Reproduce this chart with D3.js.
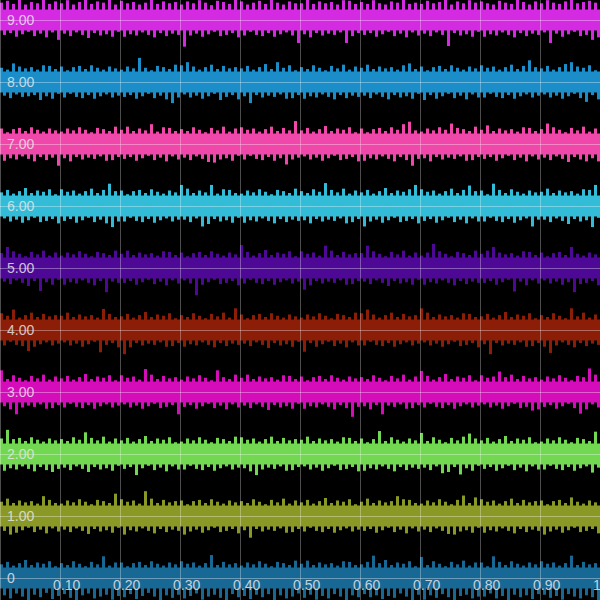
<!DOCTYPE html>
<html><head><meta charset="utf-8">
<script src="https://cdn.jsdelivr.net/npm/d3@7"></script>
<style>html,body{margin:0;padding:0;background:#000;}svg{display:block;}</style>
</head><body>
<svg id="chart" width="600" height="600"></svg>
<script>
// Series baselines (value of each trace's centre) and colours
const seriesBase = [0,1,2,3,4,5,6,7,8,9];
const seriesColors = ["#186896","#8a9826","#72d852","#d40cba","#8c1e08","#4e0896","#32bcd8","#f048aa","#1b8dc8","#d42ae2"];
// Dense core half-width of each trace (value units)
const coreHalf = [0.17,0.17,0.17,0.17,0.17,0.17,0.17,0.17,0.17,0.17];
const xTicks = [0.1,0.2,0.3,0.4,0.5,0.6,0.7,0.8,0.9,1];
const yTicks = [0,1,2,3,4,5,6,7,8,9];
const xTickLabels = ["0.10","0.20","0.30","0.40","0.50","0.60","0.70","0.80","0.90","1"];
const yTickLabels = ["0","1.00","2.00","3.00","4.00","5.00","6.00","7.00","8.00","9.00"];
// Upper / lower excursion of each trace in 100 bins of 0.01 along x (value units)
const hi9=[.28,.31,.26,.33,.25,.29,.27,.34,.26,.30,.27,.32,.25,.29,.33,.26,.30,.28,.34,.25,.31,.27,.29,.25,.28,.33,.26,.30,.27,.29,.25,.30,.27,.32,.28,.24,.31,.29,.26,.33,.30,.25,.28,.31,.26,.34,.28,.25,.30,.27,.27,.33,.26,.30,.27,.29,.25,.32,.31,.26,.29,.26,.32,.27,.25,.30,.28,.33,.26,.28,.26,.31,.27,.29,.34,.25,.30,.27,.32,.28,.30,.27,.25,.31,.28,.26,.33,.29,.25,.30,.27,.32,.28,.26,.30,.34,.27,.29,.31,.28];
const lo9=[-.24,-.21,-.27,-.23,-.19,-.26,-.22,-.28,-.20,-.32,-.22,-.26,-.20,-.24,-.29,-.21,-.25,-.23,-.27,-.19,-.27,-.23,-.25,-.20,-.24,-.28,-.21,-.26,-.22,-.24,-.43,-.25,-.22,-.27,-.23,-.19,-.26,-.24,-.21,-.28,-.25,-.19,-.24,-.26,-.21,-.27,-.23,-.20,-.25,-.37,-.23,-.28,-.21,-.25,-.22,-.24,-.20,-.37,-.26,-.21,-.24,-.21,-.27,-.23,-.19,-.26,-.22,-.28,-.20,-.25,-.22,-.26,-.20,-.24,-.42,-.21,-.25,-.23,-.27,-.19,-.27,-.23,-.25,-.20,-.24,-.28,-.21,-.26,-.22,-.24,-.20,-.37,-.22,-.27,-.23,-.19,-.26,-.24,-.32,-.28];
const hi8=[.23,.20,.30,.25,.22,.24,.20,.27,.26,.21,.25,.19,.24,.26,.21,.27,.23,.20,.25,.22,.20,.25,.22,.39,.23,.19,.26,.24,.21,.28,.27,.32,.25,.20,.24,.28,.21,.26,.22,.24,.22,.26,.20,.24,.29,.21,.32,.23,.27,.19,.24,.21,.27,.23,.19,.26,.22,.28,.20,.25,.23,.28,.21,.25,.22,.24,.20,.27,.30,.21,.25,.19,.24,.26,.21,.27,.23,.20,.25,.22,.27,.23,.25,.20,.24,.28,.21,.26,.35,.24,.22,.26,.20,.24,.29,.32,.25,.23,.27,.19];
const lo8=[-.22,-.26,-.20,-.24,-.23,-.21,-.29,-.23,-.27,-.19,-.25,-.19,-.24,-.26,-.21,-.27,-.23,-.20,-.25,-.22,-.24,-.21,-.27,-.23,-.19,-.26,-.22,-.28,-.34,-.25,-.20,-.25,-.22,-.27,-.23,-.19,-.29,-.24,-.21,-.28,-.23,-.34,-.21,-.25,-.22,-.24,-.20,-.27,-.26,-.21,-.27,-.23,-.25,-.20,-.24,-.28,-.21,-.26,-.22,-.24,-.22,-.26,-.20,-.24,-.28,-.21,-.25,-.23,-.27,-.19,-.29,-.21,-.27,-.23,-.19,-.26,-.22,-.28,-.20,-.25,-.25,-.19,-.24,-.26,-.21,-.27,-.23,-.20,-.25,-.22,-.20,-.25,-.22,-.27,-.23,-.19,-.26,-.32,-.21,-.28];
const hi7=[.25,.19,.24,.26,.21,.27,.23,.20,.25,.22,.20,.25,.22,.27,.23,.19,.26,.24,.21,.28,.23,.28,.21,.25,.22,.32,.20,.27,.26,.21,.24,.21,.27,.23,.19,.26,.22,.28,.20,.25,.27,.23,.25,.20,.24,.28,.21,.26,.22,.37,.22,.26,.20,.24,.29,.21,.25,.23,.27,.19,.25,.19,.24,.26,.21,.27,.23,.32,.36,.22,.20,.25,.22,.27,.23,.33,.26,.24,.21,.28,.23,.30,.21,.25,.22,.24,.20,.27,.26,.21,.24,.33,.27,.23,.19,.26,.22,.28,.20,.25];
const lo7=[-.27,-.23,-.25,-.20,-.24,-.28,-.21,-.26,-.22,-.35,-.23,-.28,-.21,-.25,-.22,-.24,-.20,-.27,-.26,-.21,-.24,-.21,-.27,-.23,-.19,-.26,-.22,-.28,-.20,-.25,-.22,-.26,-.20,-.24,-.29,-.30,-.25,-.23,-.27,-.19,-.25,-.19,-.24,-.26,-.21,-.27,-.23,-.33,-.25,-.22,-.20,-.25,-.22,-.27,-.23,-.19,-.26,-.24,-.21,-.28,-.27,-.23,-.25,-.20,-.24,-.28,-.21,-.26,-.35,-.24,-.23,-.28,-.21,-.25,-.22,-.24,-.20,-.27,-.26,-.21,-.24,-.21,-.27,-.23,-.19,-.26,-.22,-.28,-.20,-.25,-.22,-.26,-.20,-.24,-.29,-.21,-.25,-.28,-.23,-.28];
const hi6=[.22,.26,.20,.24,.29,.21,.25,.23,.27,.19,.27,.23,.25,.20,.24,.28,.21,.26,.36,.24,.25,.19,.24,.26,.21,.27,.23,.20,.25,.22,.34,.28,.21,.25,.22,.34,.20,.27,.26,.21,.20,.25,.22,.27,.23,.19,.26,.24,.21,.28,.24,.21,.27,.23,.37,.26,.22,.28,.20,.25,.22,.26,.20,.24,.29,.21,.25,.23,.27,.34,.27,.23,.25,.20,.24,.28,.21,.26,.33,.24,.25,.19,.36,.26,.21,.27,.23,.20,.25,.22,.23,.28,.21,.25,.22,.24,.20,.27,.26,.34];
const lo6=[-.20,-.25,-.22,-.27,-.23,-.19,-.26,-.24,-.21,-.28,-.24,-.21,-.27,-.23,-.19,-.26,-.22,-.28,-.34,-.25,-.25,-.19,-.24,-.26,-.21,-.27,-.23,-.20,-.25,-.22,-.22,-.26,-.20,-.33,-.29,-.21,-.25,-.23,-.27,-.19,-.27,-.23,-.25,-.20,-.24,-.28,-.21,-.26,-.22,-.24,-.23,-.28,-.21,-.25,-.22,-.24,-.20,-.28,-.26,-.21,-.33,-.25,-.22,-.27,-.23,-.19,-.26,-.24,-.21,-.28,-.24,-.21,-.27,-.23,-.19,-.26,-.22,-.28,-.20,-.25,-.25,-.19,-.24,-.26,-.21,-.27,-.23,-.20,-.33,-.22,-.22,-.26,-.20,-.24,-.29,-.21,-.25,-.23,-.34,-.19];
const hi5=[.24,.34,.27,.23,.19,.26,.22,.28,.20,.25,.20,.25,.22,.27,.23,.19,.26,.24,.21,.28,.23,.28,.21,.25,.22,.24,.20,.27,.26,.21,.25,.19,.24,.26,.21,.27,.23,.20,.25,.22,.37,.26,.20,.24,.29,.21,.25,.23,.27,.19,.27,.23,.25,.20,.36,.28,.21,.26,.22,.24,.24,.36,.27,.23,.19,.26,.22,.28,.20,.25,.20,.25,.39,.27,.23,.19,.26,.24,.21,.28,.23,.28,.34,.25,.22,.24,.20,.27,.26,.21,.25,.19,.24,.26,.21,.34,.23,.20,.25,.22];
const lo5=[-.22,-.26,-.20,-.24,-.29,-.21,-.37,-.23,-.27,-.19,-.27,-.23,-.25,-.20,-.24,-.28,-.21,-.39,-.22,-.24,-.24,-.21,-.27,-.23,-.19,-.26,-.22,-.28,-.20,-.25,-.20,-.25,-.44,-.27,-.23,-.19,-.26,-.24,-.21,-.28,-.25,-.19,-.24,-.26,-.21,-.27,-.23,-.20,-.25,-.22,-.35,-.28,-.21,-.25,-.22,-.24,-.20,-.27,-.26,-.21,-.22,-.26,-.20,-.24,-.29,-.21,-.25,-.23,-.27,-.19,-.27,-.23,-.25,-.20,-.24,-.28,-.21,-.26,-.22,-.24,-.24,-.21,-.27,-.23,-.19,-.38,-.22,-.28,-.20,-.25,-.20,-.25,-.22,-.27,-.23,-.39,-.26,-.24,-.21,-.28];
const hi4=[.27,.23,.33,.20,.24,.28,.21,.26,.22,.24,.23,.28,.21,.25,.22,.24,.20,.34,.26,.21,.22,.26,.20,.24,.29,.21,.25,.23,.27,.19,.24,.21,.27,.23,.19,.26,.22,.28,.20,.35,.25,.19,.24,.26,.21,.27,.23,.20,.25,.22,.20,.25,.22,.27,.23,.19,.26,.24,.21,.28,.27,.33,.25,.20,.24,.28,.21,.26,.22,.24,.35,.28,.21,.25,.22,.24,.20,.27,.26,.21,.22,.26,.20,.24,.29,.21,.25,.23,.27,.19,.24,.21,.27,.23,.19,.35,.22,.28,.20,.25];
const lo4=[-.25,-.19,-.24,-.26,-.34,-.27,-.23,-.20,-.25,-.22,-.20,-.25,-.22,-.27,-.23,-.19,-.36,-.24,-.21,-.28,-.39,-.28,-.21,-.25,-.22,-.24,-.20,-.27,-.26,-.21,-.27,-.23,-.25,-.20,-.24,-.28,-.21,-.26,-.22,-.24,-.22,-.26,-.20,-.24,-.29,-.21,-.25,-.23,-.27,-.19,-.35,-.21,-.27,-.23,-.19,-.26,-.22,-.28,-.20,-.25,-.25,-.19,-.24,-.26,-.21,-.27,-.23,-.20,-.25,-.22,-.20,-.25,-.22,-.27,-.23,-.19,-.26,-.24,-.21,-.28,-.23,-.39,-.21,-.25,-.22,-.24,-.20,-.27,-.26,-.21,-.27,-.37,-.25,-.20,-.24,-.28,-.21,-.26,-.22,-.24];
const hi3=[.35,.21,.27,.23,.19,.26,.22,.28,.20,.25,.22,.26,.20,.24,.29,.21,.25,.23,.27,.19,.27,.23,.25,.20,.37,.28,.21,.26,.22,.24,.20,.25,.22,.27,.23,.19,.35,.24,.21,.28,.23,.28,.21,.25,.22,.24,.20,.27,.26,.21,.25,.19,.24,.26,.21,.27,.23,.20,.25,.22,.24,.21,.27,.23,.19,.26,.22,.28,.20,.25,.34,.26,.20,.24,.29,.21,.25,.23,.27,.19,.27,.23,.25,.33,.24,.28,.21,.26,.22,.24,.20,.25,.22,.27,.23,.19,.26,.24,.38,.28];
const lo3=[-.23,-.28,-.36,-.25,-.22,-.24,-.20,-.27,-.26,-.21,-.25,-.19,-.24,-.26,-.21,-.27,-.23,-.20,-.25,-.22,-.20,-.25,-.22,-.27,-.23,-.19,-.26,-.24,-.21,-.36,-.24,-.21,-.27,-.23,-.19,-.26,-.22,-.28,-.20,-.25,-.22,-.26,-.20,-.24,-.29,-.21,-.25,-.23,-.27,-.19,-.27,-.23,-.25,-.20,-.24,-.28,-.21,-.26,-.40,-.24,-.23,-.28,-.21,-.36,-.22,-.24,-.20,-.27,-.26,-.21,-.25,-.19,-.24,-.26,-.21,-.27,-.23,-.20,-.25,-.22,-.20,-.25,-.22,-.27,-.23,-.19,-.26,-.24,-.30,-.28,-.24,-.21,-.27,-.23,-.19,-.26,-.35,-.28,-.20,-.25];
const hi2=[.25,.39,.24,.26,.21,.27,.23,.20,.25,.22,.24,.21,.27,.23,.35,.26,.22,.28,.20,.25,.22,.26,.20,.24,.29,.21,.25,.23,.27,.19,.20,.25,.22,.27,.23,.19,.26,.24,.21,.28,.27,.23,.25,.20,.24,.28,.21,.26,.22,.24,.23,.28,.21,.25,.22,.24,.20,.27,.26,.21,.25,.19,.24,.37,.21,.27,.23,.20,.25,.22,.34,.21,.27,.23,.19,.26,.22,.28,.33,.25,.22,.26,.20,.24,.29,.21,.25,.23,.27,.19,.20,.25,.22,.27,.23,.19,.26,.24,.21,.36];
const lo2=[-.27,-.23,-.25,-.20,-.24,-.28,-.21,-.26,-.29,-.24,-.22,-.26,-.20,-.24,-.29,-.21,-.25,-.23,-.27,-.19,-.24,-.21,-.34,-.23,-.19,-.26,-.22,-.28,-.20,-.25,-.25,-.19,-.24,-.26,-.21,-.27,-.23,-.20,-.25,-.22,-.23,-.28,-.34,-.25,-.22,-.24,-.20,-.27,-.26,-.21,-.20,-.25,-.22,-.27,-.23,-.19,-.26,-.24,-.21,-.28,-.27,-.23,-.25,-.20,-.24,-.28,-.21,-.26,-.22,-.24,-.22,-.26,-.20,-.31,-.29,-.21,-.33,-.23,-.27,-.19,-.24,-.21,-.27,-.23,-.19,-.26,-.22,-.28,-.20,-.25,-.25,-.19,-.24,-.26,-.21,-.27,-.23,-.20,-.30,-.22];
const hi1=[.23,.28,.21,.25,.22,.24,.20,.32,.26,.21,.20,.25,.22,.27,.23,.19,.26,.24,.21,.36,.27,.23,.25,.20,.40,.28,.21,.26,.22,.24,.25,.19,.24,.26,.21,.27,.23,.20,.25,.22,.24,.21,.27,.23,.19,.26,.22,.28,.20,.25,.22,.26,.20,.24,.29,.21,.25,.23,.27,.19,.23,.28,.21,.25,.22,.24,.32,.27,.26,.21,.20,.25,.22,.27,.23,.19,.26,.33,.21,.30,.27,.23,.25,.20,.24,.28,.21,.26,.22,.24,.25,.19,.24,.26,.21,.30,.23,.20,.25,.22];
const lo1=[-.24,-.30,-.27,-.23,-.19,-.26,-.22,-.28,-.20,-.25,-.22,-.26,-.20,-.24,-.29,-.21,-.25,-.23,-.27,-.19,-.30,-.23,-.25,-.20,-.24,-.28,-.21,-.26,-.22,-.24,-.30,-.25,-.22,-.27,-.23,-.19,-.26,-.24,-.21,-.28,-.23,-.35,-.21,-.25,-.22,-.24,-.20,-.27,-.26,-.21,-.25,-.19,-.24,-.26,-.21,-.27,-.23,-.20,-.25,-.22,-.24,-.21,-.27,-.23,-.19,-.26,-.22,-.28,-.20,-.25,-.22,-.26,-.20,-.24,-.29,-.30,-.25,-.23,-.27,-.19,-.27,-.23,-.25,-.20,-.24,-.28,-.21,-.26,-.22,-.24,-.30,-.25,-.22,-.27,-.23,-.19,-.26,-.24,-.21,-.28];
const hi0=[.22,.26,.20,.24,.29,.21,.25,.23,.27,.19,.24,.21,.27,.23,.19,.26,.22,.35,.20,.25,.25,.19,.24,.26,.21,.27,.23,.20,.25,.22,.27,.23,.25,.20,.24,.37,.21,.26,.22,.24,.20,.25,.22,.27,.23,.19,.26,.24,.21,.28,.23,.28,.21,.25,.22,.24,.20,.27,.26,.21,.22,.26,.36,.24,.29,.21,.25,.23,.27,.19,.34,.21,.27,.23,.19,.26,.22,.28,.20,.25,.25,.19,.35,.26,.21,.27,.23,.20,.25,.22,.27,.23,.25,.20,.24,.36,.21,.26,.22,.24];
const lo0=[-.28,-.33,-.25,-.30,-.36,-.27,-.31,-.24,-.34,-.29,-.26,-.32,-.37,-.28,-.25,-.33,-.30,-.27,-.35,-.29,-.31,-.26,-.34,-.29,-.24,-.30,-.36,-.28,-.32,-.27,-.33,-.29,-.25,-.35,-.30,-.27,-.32,-.38,-.26,-.31,-.29,-.34,-.27,-.31,-.26,-.36,-.28,-.33,-.30,-.25,-.32,-.27,-.35,-.29,-.33,-.26,-.30,-.37,-.28,-.31,-.26,-.31,-.28,-.34,-.29,-.32,-.25,-.30,-.36,-.27,-.35,-.28,-.32,-.26,-.31,-.38,-.29,-.27,-.33,-.30,-.30,-.25,-.33,-.29,-.36,-.27,-.31,-.28,-.34,-.26,-.27,-.32,-.29,-.35,-.26,-.30,-.33,-.28,-.31,-.36];

const highs=[hi0,hi1,hi2,hi3,hi4,hi5,hi6,hi7,hi8,hi9];
const lows=[lo0,lo1,lo2,lo3,lo4,lo5,lo6,lo7,lo8,lo9];

const W=600,H=600;
const svg=d3.select("#chart");
svg.append("rect").attr("width",W).attr("height",H).attr("fill","#000");
const x=d3.scaleLinear().domain([0,1]).range([0,W]);
const y=d3.scaleLinear().domain([-0.355,9.323]).range([H,0]);

const plot=svg.append("g");
seriesBase.forEach((b,k)=>{
  const hs=highs[k], ls=lows[k], n=hs.length;
  const col=seriesColors[k];
  const g=plot.append("g").attr("fill",col);
  // dense core
  g.append("path").datum([0,1])
    .attr("d",d3.area().x(d=>x(d)).y0(y(b-coreHalf[k])).y1(y(b+coreHalf[k])));
  const bw=x(1/n)-x(0);
  // upward excursions
  g.selectAll("rect.u").data(hs).enter().append("rect")
    .attr("x",(d,i)=>x(i/n)).attr("width",bw*0.5)
    .attr("y",d=>y(b+d)).attr("height",d=>y(b)-y(b+d));
  // downward excursions
  g.selectAll("rect.d").data(ls).enter().append("rect")
    .attr("x",(d,i)=>x(i/n)+bw*0.5).attr("width",bw*0.5)
    .attr("y",y(b)).attr("height",d=>y(b+d)-y(b));
});

// grid on top
const grid=svg.append("g");
grid.selectAll("line.v").data([0].concat(xTicks)).enter().append("line")
  .attr("x1",d=>Math.round(x(d))+0.5).attr("x2",d=>Math.round(x(d))+0.5)
  .attr("y1",0).attr("y2",H).attr("stroke","#fff").attr("stroke-opacity",0.3);
grid.selectAll("line.h").data(yTicks).enter().append("line")
  .attr("y1",d=>Math.round(y(d))+0.5).attr("y2",d=>Math.round(y(d))+0.5)
  .attr("x1",0).attr("x2",W).attr("stroke","#fff").attr("stroke-opacity",0.35);

const font="'Liberation Sans', Arial, sans-serif";
svg.append("g").selectAll("text").data(yTicks).enter().append("text")
  .attr("x",7).attr("y",d=>y(d)).attr("dy","0.36em")
  .attr("font-family",font).attr("font-size",14).attr("fill","#e6e6e6").attr("fill-opacity",0.85)
  .text((d,i)=>yTickLabels[i]);
svg.append("g").selectAll("text").data(xTicks).enter().append("text")
  .attr("x",d=>x(d)-7).attr("y",590)
  .attr("font-family",font).attr("font-size",14).attr("fill","#e6e6e6").attr("fill-opacity",0.85)
  .text((d,i)=>xTickLabels[i]);
</script>
</body></html>
